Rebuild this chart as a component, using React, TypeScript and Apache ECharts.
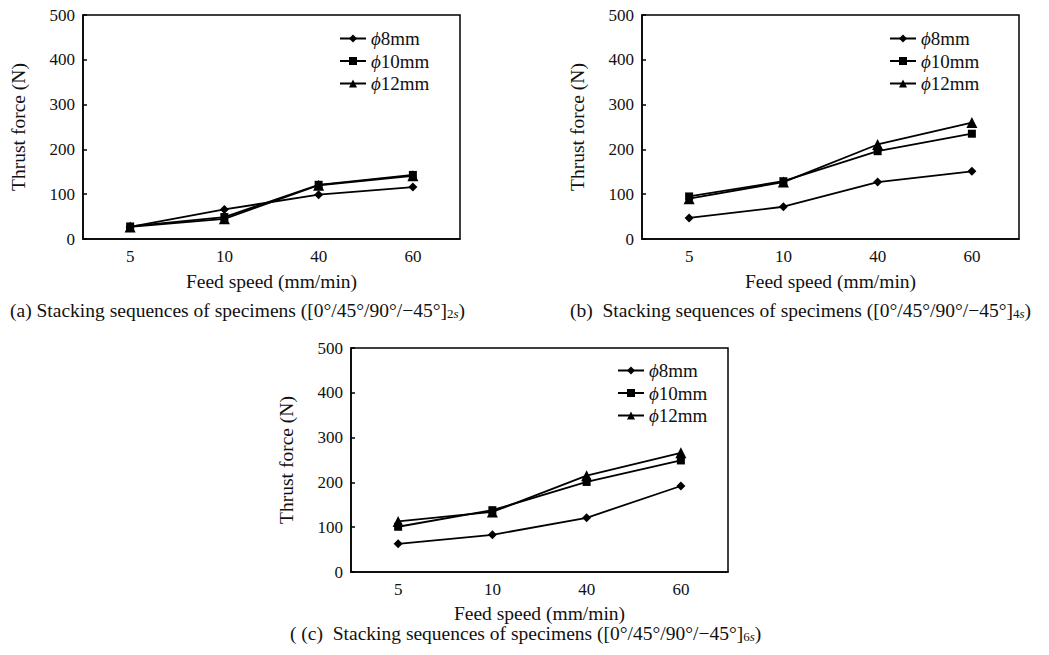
import React, { useEffect, useRef } from "react";
import * as echarts from "echarts";

const categories = ["5", "10", "40", "60"];
const seriesNames = ["ϕ8mm", "ϕ10mm", "ϕ12mm"];
const symbols = ["diamond", "rect", "triangle"];
const symbolSizes = [9, 8, 11];

const aPhi8 = [27, 66, 99, 116];
const aPhi10 = [28, 49, 121, 143];
const aPhi12 = [27, 45, 120, 141];

const bPhi8 = [47, 72, 127, 151];
const bPhi10 = [95, 129, 196, 235];
const bPhi12 = [90, 127, 211, 260];

const cPhi8 = [63, 83, 121, 192];
const cPhi10 = [101, 138, 201, 249];
const cPhi12 = [113, 134, 215, 266];

const yTicks = [0, 100, 200, 300, 400, 500];
const xTitle = "Feed speed (mm/min)";
const yTitle = "Thrust force (N)";
const captionMain = "Stacking sequences of specimens ([0°/45°/90°/−45°]";

const FONT = "'Liberation Serif', 'Times New Roman', serif";
const TEXT_SIZE = 19.5;

const panels = [
  { grid: { left: 83, top: 15, width: 377, height: 224 }, legend: { left: 334, top: 24 }, nameGap: 32, data: [aPhi8, aPhi10, aPhi12] },
  { grid: { left: 642, top: 15, width: 377, height: 224 }, legend: { left: 884, top: 24 }, nameGap: 32, data: [bPhi8, bPhi10, bPhi12] },
  { grid: { left: 351, top: 348, width: 377, height: 224 }, legend: { left: 612, top: 356 }, nameGap: 31, data: [cPhi8, cPhi10, cPhi12] },
];

const captions = [
  { prefix: "(a) ", sub: "2", x: 10, y: 310 },
  { prefix: "(b)  ", sub: "4", x: 570, y: 310 },
  { prefix: "( (c)  ", sub: "6", x: 290, y: 633 },
];

export default function App() {
  const ref = useRef<HTMLDivElement>(null);
  useEffect(() => {
    document.body.style.margin = "0";
    if (!ref.current) return;
    const chart = echarts.init(ref.current, null, { renderer: "svg" });
    const grids: any[] = [];
    const xAxes: any[] = [];
    const yAxes: any[] = [];
    const legends: any[] = [];
    const series: any[] = [];
    panels.forEach((p, i) => {
      grids.push({ ...p.grid, show: true, borderColor: "#000", borderWidth: 1.5, backgroundColor: "#fff" });
      xAxes.push({
        type: "category",
        gridIndex: i,
        data: categories,
        boundaryGap: true,
        axisLine: { lineStyle: { color: "#000", width: 1.5 } },
        axisTick: { inside: true, alignWithLabel: true, length: 4, lineStyle: { color: "#000", width: 1.5 } },
        axisLabel: { color: "#111", fontFamily: FONT, fontSize: 17, margin: 9 },
        name: xTitle,
        nameLocation: "middle",
        nameGap: p.nameGap,
        nameTextStyle: { color: "#111", fontFamily: FONT, fontSize: TEXT_SIZE, lineHeight: 20 },
      });
      xAxes.push({
        type: "category",
        gridIndex: i,
        data: categories,
        boundaryGap: true,
        position: "bottom",
        axisLine: { show: false },
        axisTick: { inside: true, alignWithLabel: false, length: 4, lineStyle: { color: "#000", width: 1.5 } },
        axisLabel: { show: false },
      });
      yAxes.push({
        type: "value",
        gridIndex: i,
        min: 0,
        max: 500,
        interval: 100,
        splitLine: { show: false },
        axisLine: { show: true, lineStyle: { color: "#000", width: 1.5 } },
        axisTick: { show: true, inside: true, length: 4, lineStyle: { color: "#000", width: 1.5 } },
        axisLabel: { color: "#111", fontFamily: FONT, fontSize: 17, margin: 8, formatter: (v: number) => (yTicks.includes(v) ? String(v) : "") },
        name: yTitle,
        nameLocation: "middle",
        nameGap: 55,
        nameTextStyle: { color: "#111", fontFamily: FONT, fontSize: TEXT_SIZE },
      });
      legends.push({
        left: p.legend.left,
        top: p.legend.top,
        orient: "vertical",
        data: seriesNames,
        itemWidth: 26,
        itemHeight: 10,
        itemGap: 3.5,
        selectedMode: false,
        formatter: (name: string) => `{i|ϕ}{n|${name.slice(1)}}`,
        textStyle: {
          color: "#111",
          fontFamily: FONT,
          fontSize: 19,
          lineHeight: 18,
          rich: {
            i: { fontStyle: "italic", fontFamily: FONT, fontSize: 19, lineHeight: 18, color: "#111" },
            n: { fontFamily: FONT, fontSize: 19, lineHeight: 18, color: "#111" },
          },
        },
      });
      p.data.forEach((vals, k) => {
        series.push({
          type: "line",
          name: seriesNames[k],
          xAxisIndex: i * 2,
          yAxisIndex: i,
          data: vals,
          symbol: symbols[k],
          symbolSize: symbolSizes[k],
          lineStyle: { color: "#000", width: 1.8 },
          itemStyle: { color: "#000" },
          z: 3 + k,
        });
      });
    });
    const graphics = captions.map((c) => ({
      type: "text",
      left: c.x,
      top: c.y - 10,
      style: {
        text: `{t|${c.prefix}${captionMain}}{s|${c.sub}}{si|s}{t|)}`,
        rich: {
          t: { fontFamily: FONT, fontSize: TEXT_SIZE, lineHeight: 20, fill: "#111" },
          s: { fontFamily: FONT, fontSize: 13, lineHeight: 11, verticalAlign: "bottom", fill: "#111" },
          si: { fontFamily: FONT, fontSize: 13, lineHeight: 11, fontStyle: "italic", verticalAlign: "bottom", fill: "#111" },
        },
      },
    }));
    chart.setOption({
      animation: false,
      backgroundColor: "#fff",
      grid: grids,
      xAxis: xAxes,
      yAxis: yAxes,
      legend: legends,
      series,
      graphic: graphics,
    });
    return () => chart.dispose();
  }, []);
  return <div ref={ref} style={{ width: 1049, height: 655 }} />;
}
